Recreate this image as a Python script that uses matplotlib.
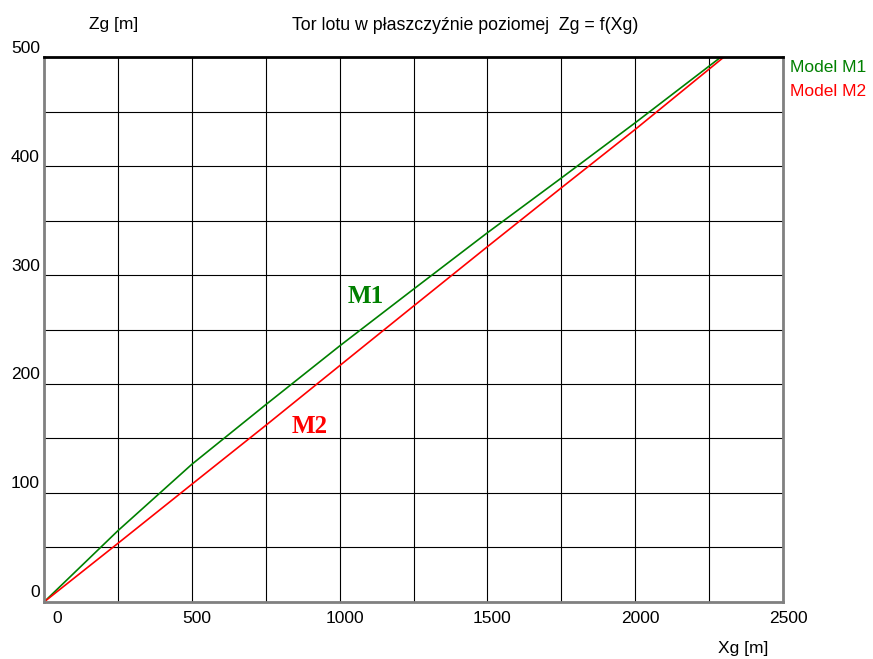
import matplotlib.pyplot as plt
from matplotlib.transforms import ScaledTranslation

plt.rcParams['font.family'] = ['Liberation Sans', 'DejaVu Sans']

xg = [0, 250, 500, 750, 1000, 1250, 1500, 1750, 2000, 2290]
zg_m1 = [0, 65.4, 126.3, 181, 234.9, 287, 338.8, 389, 439.7, 500]
xg_m2 = [0, 250, 500, 750, 1000, 1250, 1500, 1750, 2000, 2300]
zg_m2 = [0, 53.8, 108, 162, 216.8, 271.5, 326, 380, 433.6, 500]

x_ticks = [0, 500, 1000, 1500, 2000, 2500]
y_ticks = [0, 100, 200, 300, 400, 500]

green = '#008000'
red = '#ff0000'
fs = 12.5

fig = plt.figure(figsize=(8.73, 6.59), dpi=100)
ax = fig.add_axes([0.0504, 0.0865, 0.8466, 0.827])

ax.plot(xg, zg_m1, color=green, lw=1.2)
ax.plot(xg_m2, zg_m2, color=red, lw=1.2)

ax.set_xlim(0, 2500)
ax.set_ylim(0, 500)
ax.set_xticks(range(0, 2501, 250))
ax.set_yticks(range(0, 501, 50))
ax.tick_params(length=0, labelbottom=False, labelleft=False)
ax.grid(color='black', lw=0.8)

for side in ['left', 'bottom', 'right']:
    ax.spines[side].set_color('#808080')
    ax.spines[side].set_linewidth(2)
ax.spines['top'].set_color('black')
ax.spines['top'].set_linewidth(2)

# tick labels placed slightly off the grid lines, as in the original
for v in x_ticks:
    dx = 13 if v == 0 else 5
    xt = ax.get_xaxis_transform() + ScaledTranslation(dx / 100, -17 / 100, fig.dpi_scale_trans)
    ax.text(v, 0, str(v), transform=xt, ha='center', va='center', fontsize=fs)
yt = ax.get_yaxis_transform() + ScaledTranslation(-4 / 100, 9 / 100, fig.dpi_scale_trans)
for v in y_ticks:
    ax.text(0, v, str(v), transform=yt, ha='right', va='center', fontsize=fs)

fig.text(465 / 873, 1 - 25 / 659, 'Tor lotu w płaszczyźnie poziomej  Zg = f(Xg)',
         ha='center', va='center', fontsize=12.8)
fig.text(114 / 873, 1 - 25 / 659, 'Zg [m]', ha='center', va='center', fontsize=fs)
fig.text(743 / 873, 1 - 648 / 659, 'Xg [m]', ha='center', va='center', fontsize=fs)

fig.text(790 / 873, 1 - 68 / 659, 'Model M1', color=green, ha='left', va='center', fontsize=fs)
fig.text(790 / 873, 1 - 92 / 659, 'Model M2', color=red, ha='left', va='center', fontsize=fs)

ax.text(1089, 280, 'M1', color=green, fontsize=18, fontweight='bold',
        family='Liberation Serif', ha='center', va='center')
ax.text(900, 161, 'M2', color=red, fontsize=18, fontweight='bold',
        family='Liberation Serif', ha='center', va='center')

plt.savefig('out.png', dpi=100)
plt.close()
